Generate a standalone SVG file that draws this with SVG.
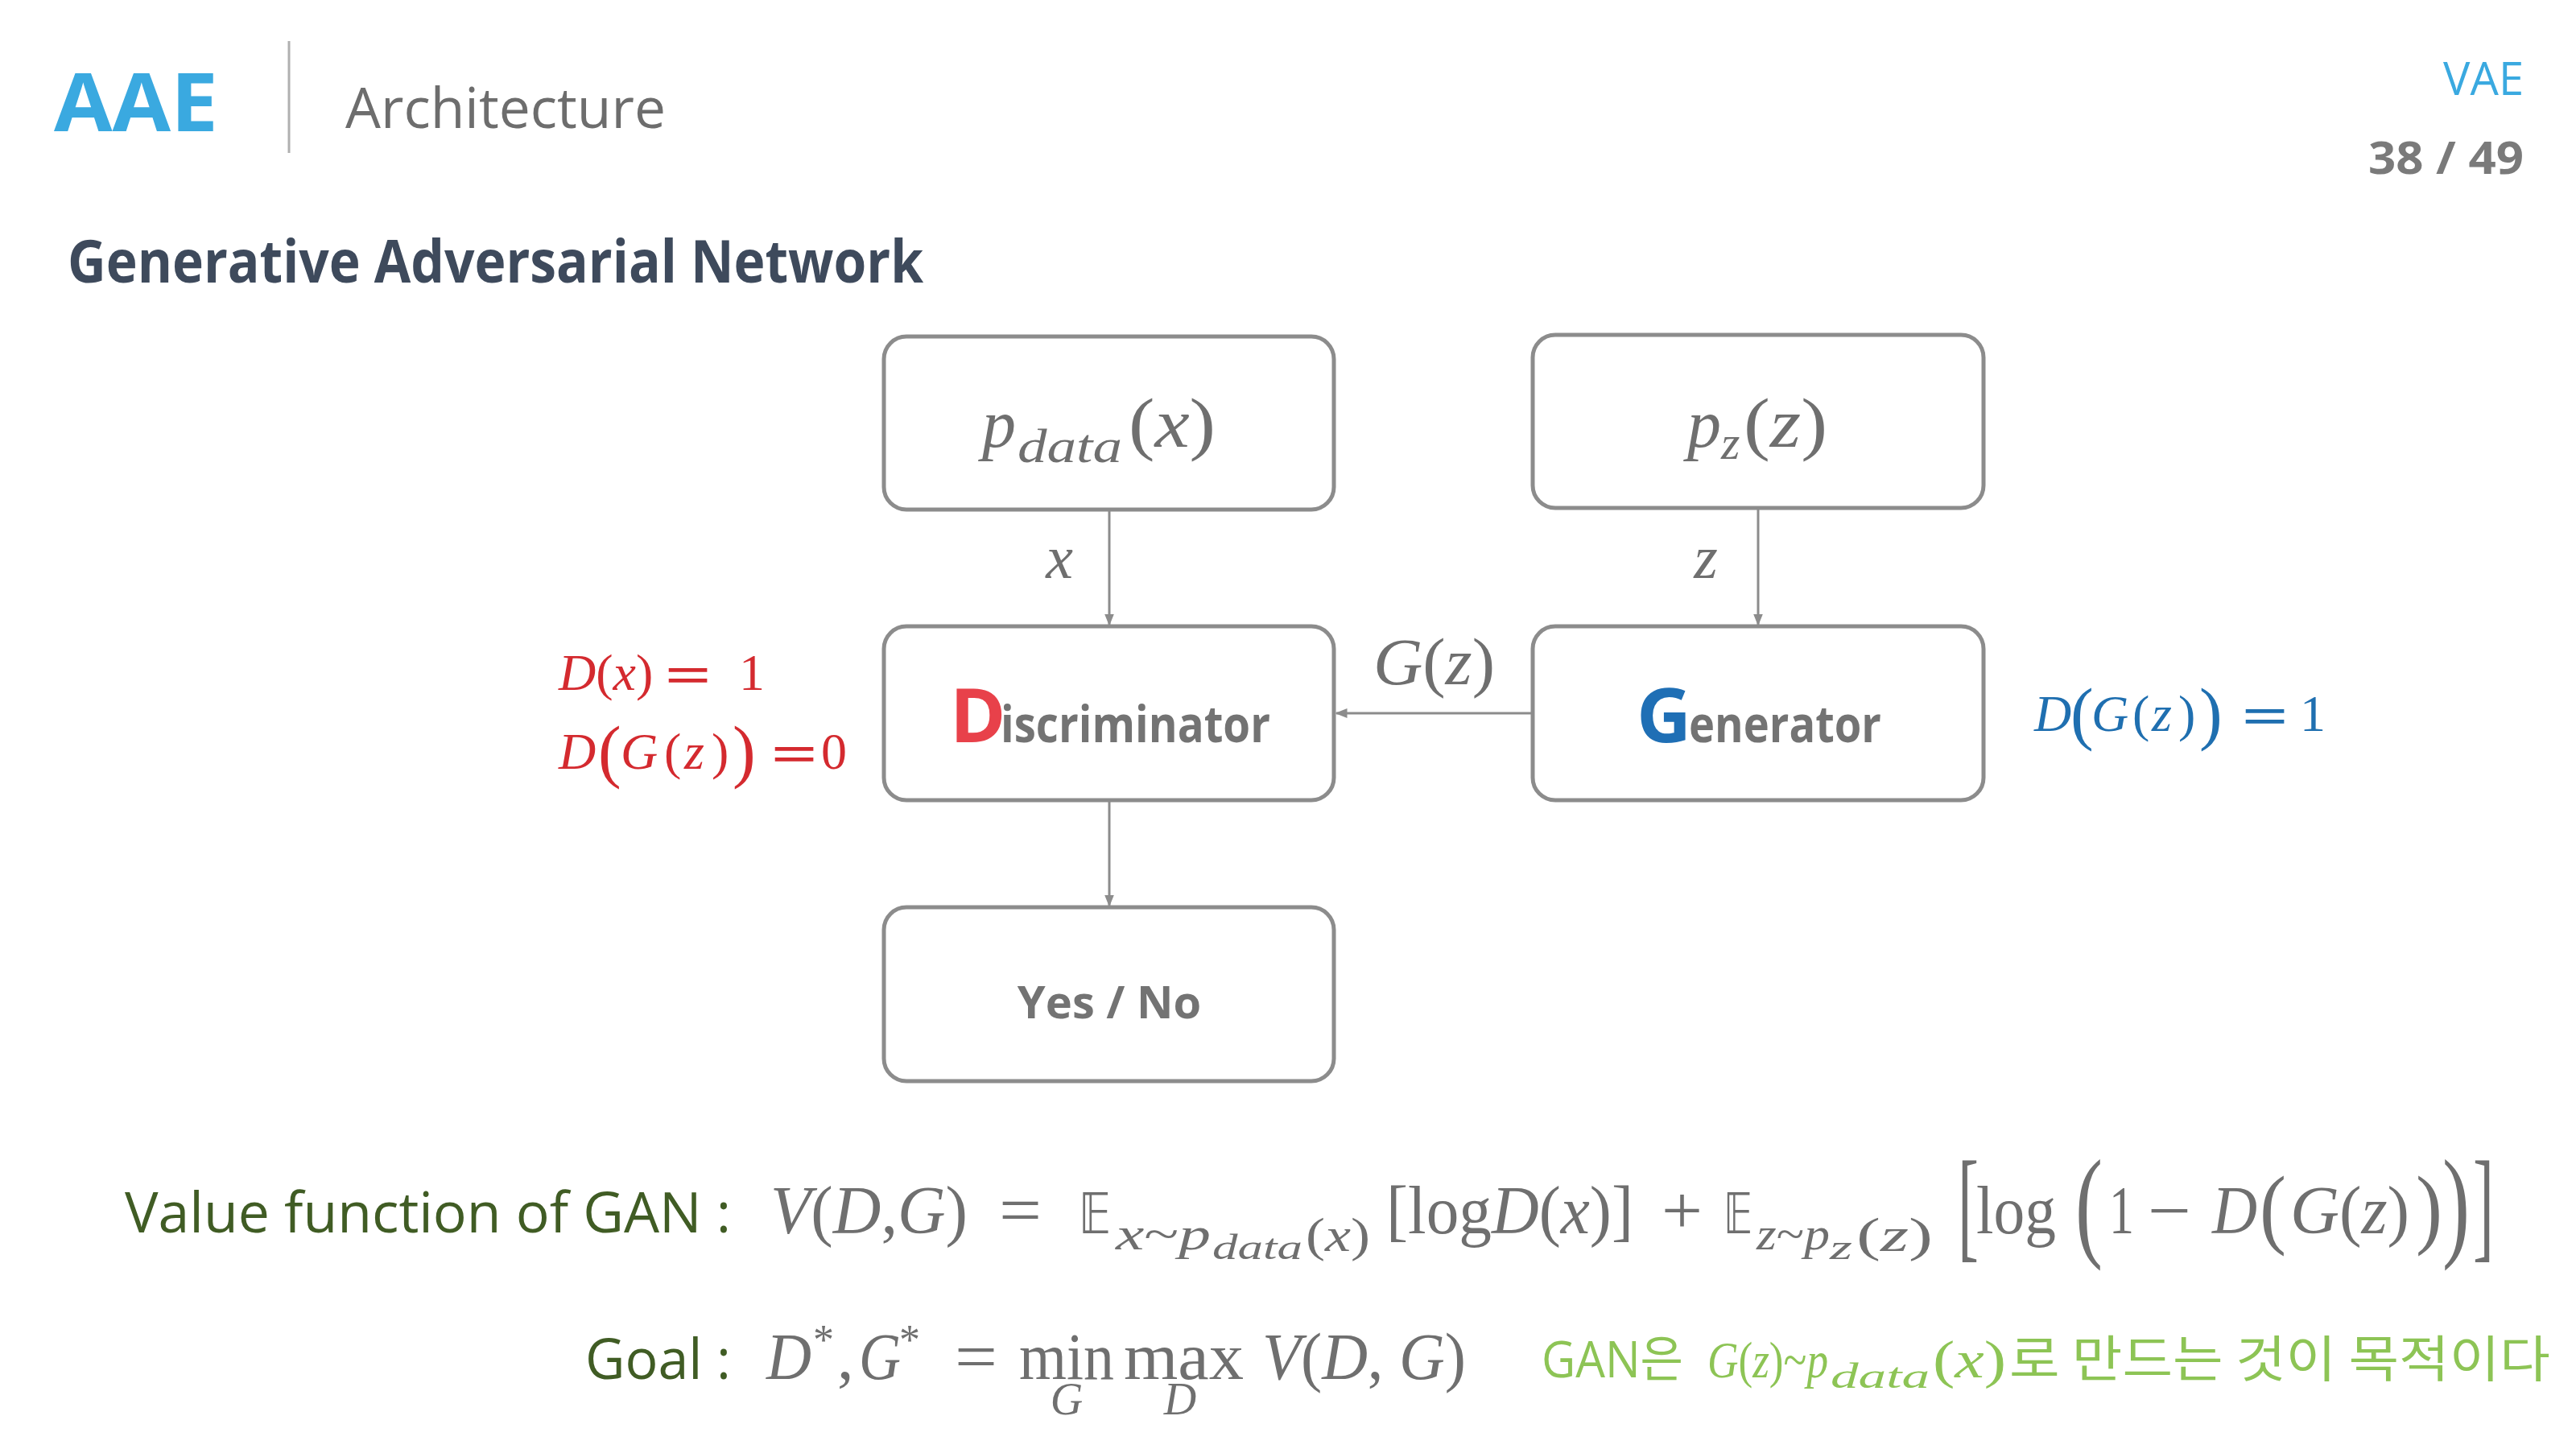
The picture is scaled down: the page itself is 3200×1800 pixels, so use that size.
<svg xmlns="http://www.w3.org/2000/svg" width="3200" height="1800" viewBox="0 0 3200 1800">
<style>
.box{fill:#ffffff;stroke:#8c8c8c;stroke-width:5}
.edge{stroke:#8c8c8c;stroke-width:3;fill:none}
.sans{font-family:"Open Sans","Noto Sans","Noto Sans CJK KR",sans-serif}
.m{font-family:"Liberation Serif","DejaVu Serif",serif;font-style:italic;fill:#6f6f6f}
.r{font-style:normal}
.bb{font-family:"DejaVu Sans",sans-serif;font-style:normal}
.lbl{font-family:"Open Sans","Noto Sans",sans-serif;fill:#405c24}
.node-t{font-family:"Open Sans","Noto Sans",sans-serif;font-weight:700;fill:#737373}
.red{fill:#d42a2f}
.blue{fill:#1f6fb0}
.note{fill:#8dc455}
</style>
<defs>
<marker id="arr" viewBox="0 0 10 10" refX="9" refY="5" markerWidth="5" markerHeight="5" orient="auto" markerUnits="strokeWidth">
<path d="M0,1 L10,5 L0,9 z" fill="#8c8c8c"/>
</marker>
</defs>
<rect width="3200" height="1800" fill="#ffffff"/>

<g id="header">
<text class="sans" x="67" y="163" font-size="100" font-weight="700" fill="#3aa9e0" textLength="204" lengthAdjust="spacingAndGlyphs">AAE</text>
<line x1="359" y1="51" x2="359" y2="190" stroke="#b0b0b0" stroke-width="3"/>
<text class="sans" x="429" y="159" font-size="70" fill="#6d6d6d" textLength="398" lengthAdjust="spacingAndGlyphs">Architecture</text>
<text class="sans" x="3135" y="118" font-size="56" fill="#3aa9e0" text-anchor="end">VAE</text>
<text class="sans" x="3135" y="216" font-size="56" font-weight="700" fill="#7a7a7a" text-anchor="end" textLength="193" lengthAdjust="spacingAndGlyphs">38 / 49</text>
<text class="sans" x="84" y="351" font-size="74" font-weight="700" fill="#3e4a5c" textLength="1063" lengthAdjust="spacingAndGlyphs">Generative Adversarial Network</text>
</g>

<g id="connectors">
<line class="edge" x1="1378" y1="633" x2="1378" y2="776" marker-end="url(#arr)"/>
<line class="edge" x1="2184" y1="631" x2="2184" y2="776" marker-end="url(#arr)"/>
<line class="edge" x1="1904" y1="886" x2="1660" y2="886" marker-end="url(#arr)"/>
<line class="edge" x1="1378" y1="994" x2="1378" y2="1125" marker-end="url(#arr)"/>
<text class="m" x="1316" y="718" font-size="76" text-anchor="middle">x</text>
<text class="m" x="2119" y="718" font-size="76" text-anchor="middle">z</text>
<text class="m" x="1706" y="850" font-size="82" textLength="151" lengthAdjust="spacingAndGlyphs">G<tspan class="r">(</tspan>z<tspan class="r">)</tspan></text>
</g>

<g id="node-pdata">
<rect class="box" x="1098" y="418" width="559" height="215" rx="28"/>
<text class="m" x="1220" y="555" font-size="84">p</text>
<text class="m" x="1264" y="574" font-size="60" textLength="130" lengthAdjust="spacingAndGlyphs">data</text>
<text class="m" x="1402" y="555" font-size="86" textLength="108" lengthAdjust="spacingAndGlyphs"><tspan class="r">(</tspan>x<tspan class="r">)</tspan></text>
</g>

<g id="node-pz">
<rect class="box" x="1904" y="416" width="560" height="215" rx="28"/>
<text class="m" x="2096" y="555" font-size="84">p</text>
<text class="m" x="2138" y="570" font-size="60">z</text>
<text class="m" x="2166" y="555" font-size="86" textLength="104" lengthAdjust="spacingAndGlyphs"><tspan class="r">(</tspan>z<tspan class="r">)</tspan></text>
</g>

<g id="node-discriminator">
<rect class="box" x="1098" y="778" width="559" height="216" rx="28"/>
<text class="node-t" x="1180" y="922" font-size="94" style="fill:#e8414a">D</text>
<text class="node-t" x="1243" y="922" font-size="62" textLength="335" lengthAdjust="spacingAndGlyphs">iscriminator</text>
</g>

<g id="node-generator">
<rect class="box" x="1904" y="778" width="560" height="216" rx="28"/>
<text class="node-t" x="2033" y="922" font-size="94" style="fill:#1f6fb5">G</text>
<text class="node-t" x="2098" y="922" font-size="62" textLength="239" lengthAdjust="spacingAndGlyphs">enerator</text>
</g>

<g id="node-yesno">
<rect class="box" x="1098" y="1127" width="559" height="216" rx="28"/>
<text class="node-t" x="1378" y="1265" font-size="56" text-anchor="middle">Yes / No</text>
</g>

<g id="label-discriminator">
<text class="m red" font-size="64" y="857"><tspan x="694">D</tspan><tspan class="r">(</tspan>x<tspan class="r">)</tspan></text>
<text class="m r red" x="827" y="861" font-size="66" stroke="#d42a2f" stroke-width="1.5" textLength="55" lengthAdjust="spacingAndGlyphs">=</text>
<text class="m r red" x="918" y="857" font-size="64">1</text>
<text class="m red" font-size="64" y="955"><tspan x="694">D</tspan><tspan class="r" x="743" y="962" font-size="86">(</tspan><tspan x="771" y="955">G</tspan><tspan class="r" x="825">(</tspan><tspan x="850">z</tspan><tspan class="r" x="884">)</tspan><tspan class="r" x="910" y="962" font-size="86">)</tspan></text>
<text class="m r red" x="959" y="959" font-size="66" stroke="#d42a2f" stroke-width="1.5" textLength="55" lengthAdjust="spacingAndGlyphs">=</text>
<text class="m r red" x="1020" y="955" font-size="64">0</text>
</g>

<g id="label-generator">
<text class="m blue" font-size="64" y="908"><tspan x="2527">D</tspan><tspan class="r" x="2572" y="915" font-size="86">(</tspan><tspan x="2598" y="908">G</tspan><tspan class="r" x="2649">(</tspan><tspan x="2673">z</tspan><tspan class="r" x="2706">)</tspan><tspan class="r" x="2732" y="915" font-size="86">)</tspan></text>
<text class="m r blue" x="2786" y="912" font-size="66" stroke="#1f6fb0" stroke-width="1.5" textLength="55" lengthAdjust="spacingAndGlyphs">=</text>
<text class="m r blue" x="2857" y="908" font-size="64">1</text>
</g>

<g id="value-function">
<text class="lbl" x="155" y="1531" font-size="70" textLength="753" lengthAdjust="spacingAndGlyphs">Value function of GAN :</text>
<text class="m" x="957" y="1532" font-size="84" textLength="245" lengthAdjust="spacingAndGlyphs">V<tspan class="r">(</tspan>D<tspan class="r">,</tspan>G<tspan class="r">)</tspan></text>
<text class="m r" x="1241" y="1532" font-size="84" textLength="53" lengthAdjust="spacingAndGlyphs">=</text>
<text class="m bb" x="1340" y="1532" font-size="70" textLength="40" lengthAdjust="spacingAndGlyphs">𝔼</text>
<text class="m" x="1386" y="1552" font-size="58" textLength="118" lengthAdjust="spacingAndGlyphs">x<tspan class="r">~</tspan>p</text>
<text class="m" x="1506" y="1564" font-size="44" textLength="112" lengthAdjust="spacingAndGlyphs">data</text>
<text class="m" x="1622" y="1554" font-size="60" textLength="80" lengthAdjust="spacingAndGlyphs"><tspan class="r">(</tspan>x<tspan class="r">)</tspan></text>
<text class="m" x="1722" y="1532" font-size="84" textLength="307" lengthAdjust="spacingAndGlyphs"><tspan class="r">[log</tspan>D<tspan class="r">(</tspan>x<tspan class="r">)]</tspan></text>
<text class="m r" x="2064" y="1532" font-size="84" textLength="51" lengthAdjust="spacingAndGlyphs">+</text>
<text class="m bb" x="2141" y="1532" font-size="70" textLength="36" lengthAdjust="spacingAndGlyphs">𝔼</text>
<text class="m" x="2182" y="1552" font-size="58" textLength="91" lengthAdjust="spacingAndGlyphs">z<tspan class="r">~</tspan>p</text>
<text class="m" x="2273" y="1564" font-size="44" textLength="28" lengthAdjust="spacingAndGlyphs">z</text>
<text class="m" x="2306" y="1554" font-size="60" textLength="95" lengthAdjust="spacingAndGlyphs"><tspan class="r">(</tspan>z<tspan class="r">)</tspan></text>
<text class="m r" x="2432" y="1548" font-size="152" textLength="26" lengthAdjust="spacingAndGlyphs">[</text>
<text class="m r" x="2455" y="1532" font-size="84" textLength="99" lengthAdjust="spacingAndGlyphs">log</text>
<text class="m r" x="2578" y="1546" font-size="152" textLength="34" lengthAdjust="spacingAndGlyphs">(</text>
<text class="m r" x="2620" y="1532" font-size="84" textLength="31" lengthAdjust="spacingAndGlyphs">1</text>
<text class="m r" x="2668" y="1532" font-size="84" textLength="54" lengthAdjust="spacingAndGlyphs">−</text>
<text class="m" x="2748" y="1532" font-size="84" textLength="56" lengthAdjust="spacingAndGlyphs">D</text>
<text class="m r" x="2807" y="1537" font-size="111" textLength="33" lengthAdjust="spacingAndGlyphs">(</text>
<text class="m" x="2845" y="1532" font-size="84" textLength="61" lengthAdjust="spacingAndGlyphs">G</text>
<text class="m" x="2906" y="1532" font-size="84" textLength="87" lengthAdjust="spacingAndGlyphs"><tspan class="r">(</tspan>z<tspan class="r">)</tspan></text>
<text class="m r" x="3001" y="1537" font-size="111" textLength="33" lengthAdjust="spacingAndGlyphs">)</text>
<text class="m r" x="3034" y="1546" font-size="152" textLength="34" lengthAdjust="spacingAndGlyphs">)</text>
<text class="m r" x="3072" y="1548" font-size="152" textLength="26" lengthAdjust="spacingAndGlyphs">]</text>
</g>

<g id="goal">
<text class="lbl" x="727" y="1713" font-size="70" textLength="181" lengthAdjust="spacingAndGlyphs">Goal :</text>
<text class="m" x="952" y="1713" font-size="82" textLength="56" lengthAdjust="spacingAndGlyphs">D</text>
<text class="m r" x="1010" y="1682" font-size="52">*</text>
<text class="m r" x="1040" y="1713" font-size="82">,</text>
<text class="m" x="1067" y="1713" font-size="82" textLength="52" lengthAdjust="spacingAndGlyphs">G</text>
<text class="m r" x="1117" y="1682" font-size="52">*</text>
<text class="m r" x="1186" y="1713" font-size="82" textLength="53" lengthAdjust="spacingAndGlyphs">=</text>
<text class="m r" x="1266" y="1713" font-size="82" textLength="118" lengthAdjust="spacingAndGlyphs">min</text>
<text class="m r" x="1396" y="1713" font-size="82" textLength="149" lengthAdjust="spacingAndGlyphs">max</text>
<text class="m" x="1568" y="1713" font-size="82" textLength="253" lengthAdjust="spacingAndGlyphs">V<tspan class="r">(</tspan>D<tspan class="r">, </tspan>G<tspan class="r">)</tspan></text>
<text class="m" x="1325" y="1757" font-size="56" text-anchor="middle">G</text>
<text class="m" x="1466" y="1757" font-size="56" text-anchor="middle">D</text>
</g>

<g id="note">
<text class="note" x="1915" y="1711" font-size="62" font-family="Open Sans, Noto Sans CJK KR, sans-serif" textLength="176" lengthAdjust="spacingAndGlyphs">GAN은</text>
<text class="m note" x="2121" y="1711" font-size="64" textLength="150" lengthAdjust="spacingAndGlyphs">G<tspan class="r">(</tspan>z<tspan class="r">)~</tspan>p</text>
<text class="m note" x="2274" y="1724" font-size="44" textLength="123" lengthAdjust="spacingAndGlyphs">data</text>
<text class="m note" x="2401" y="1711" font-size="66" textLength="91" lengthAdjust="spacingAndGlyphs"><tspan class="r">(</tspan>x<tspan class="r">)</tspan></text>
<text class="note" x="2496" y="1711" font-size="62" font-family="Noto Sans CJK KR, sans-serif" textLength="672" lengthAdjust="spacingAndGlyphs">로 만드는 것이 목적이다</text>
</g>
</svg>
